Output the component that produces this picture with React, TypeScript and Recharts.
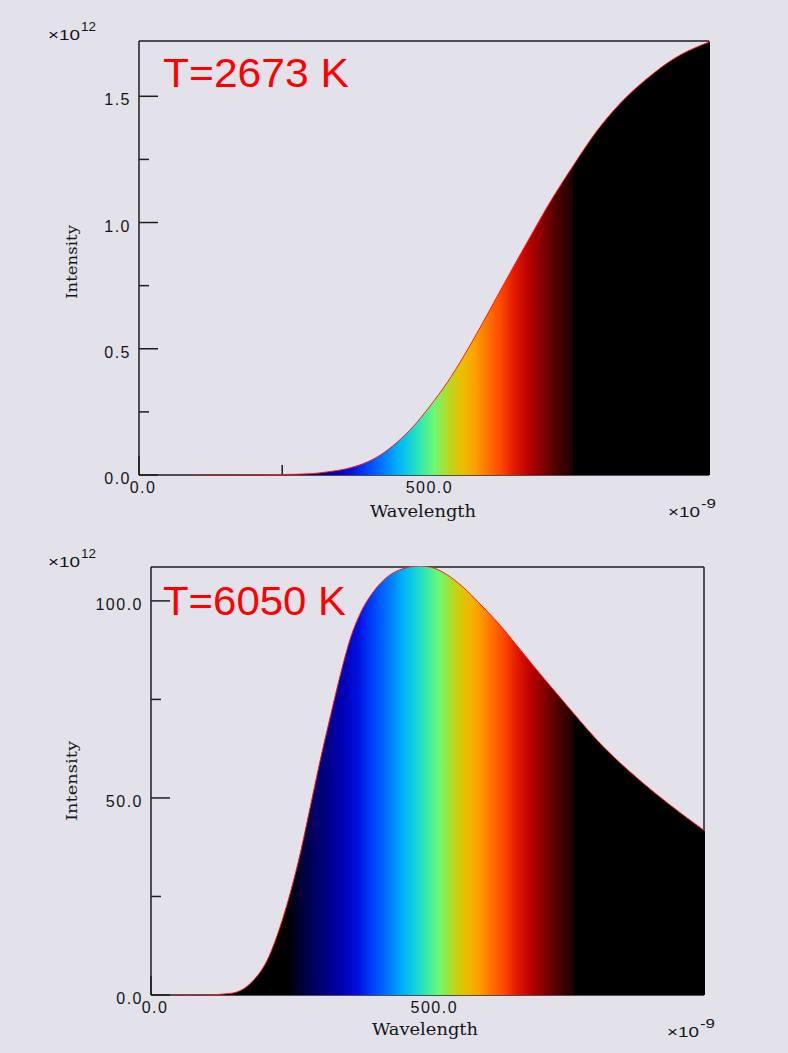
import React from 'react';
import { ComposedChart, Area, XAxis, YAxis } from 'recharts';

// ---- data ----
const topTemperature = 'T=2673 K';
const topWavelengths = [95, 150, 200, 250, 300, 327, 362, 391, 420, 449, 478, 507, 537, 566, 595, 624, 653, 682, 711, 760, 798, 839, 886, 932, 979, 995];
const topIntensity = [0, 0.0005, 0.001, 0.002, 0.005, 0.012, 0.025, 0.045, 0.078, 0.128, 0.192, 0.272, 0.365, 0.47, 0.585, 0.705, 0.825, 0.942, 1.058, 1.234, 1.36, 1.47, 1.568, 1.645, 1.698, 1.712];
const topYTicks = [0, 0.25, 0.5, 0.75, 1.0, 1.25, 1.5];
const topYMax = 1.719;
const topXMax = 995;

const bottomTemperature = 'T=6050 K';
const bottomWavelengths = [40, 100, 142, 178, 208, 231, 249, 267, 285, 303, 321, 339, 357, 374, 398, 422, 452, 480, 500, 518, 541, 554, 590, 625, 661, 697, 733, 757, 804, 852, 900, 948, 990];
const bottomIntensity = [0, 0.05, 0.4, 3.0, 8.9, 17.4, 25.9, 36.0, 47.9, 59.8, 70.8, 81.4, 90.6, 96.6, 102.2, 105.8, 108.0, 108.6, 108.3, 107.3, 105.2, 103.7, 98.7, 93.4, 87.2, 81.0, 75.0, 71.0, 63.5, 57.0, 51.2, 45.9, 41.5];
const bottomYTicks = [0, 25, 50, 75, 100];
const bottomYMax = 108.6;
const bottomXMax = 990;

const xTicks = [0, 250, 500, 750];

// spectrum colour map (wavelength in nm -> colour)
const spectrumWavelengths = [0, 245, 265, 300, 340, 370, 400, 425, 450, 470, 490, 515, 540, 562, 585, 605, 630, 655, 680, 705, 730, 755, 757, 1000];
const spectrumColors = ['#000000', '#000000', '#000030', '#000070', '#0000b0', '#0010e0', '#0048ff', '#0078ff', '#00b0f8', '#10d0e0', '#30e8b0', '#70f870', '#b8d820', '#e8c000', '#ffa000', '#ff7800', '#ff4800', '#e01800', '#b80000', '#800000', '#480000', '#200000', '#000000', '#000000'];

const topData = topWavelengths.map((wl, i) => ({ wl, intensity: topIntensity[i] }));
const bottomData = bottomWavelengths.map((wl, i) => ({ wl, intensity: bottomIntensity[i] }));

const AXIS = '#1e1e1e';
const tickFont = { fontFamily: '"Liberation Sans", Arial, sans-serif', fontSize: 16, letterSpacing: 1.5, fill: '#151515' };

function makeYTick(majorStep: number) {
  return (props: any) => {
    const { x, y, payload } = props;
    const v = payload.value as number;
    const isMajor = Math.abs(v / majorStep - Math.round(v / majorStep)) < 1e-6;
    return (
      <g>
        <line x1={x} y1={y} x2={x + (isMajor ? 19 : 10)} y2={y} stroke={AXIS} strokeWidth={1.5} />
        {isMajor && (
          <text x={x - 8} y={y + 9} textAnchor="end" style={tickFont}>
            {v.toFixed(1)}
          </text>
        )}
      </g>
    );
  };
}

function XTick(props: any) {
  const { x, y, payload } = props;
  const v = payload.value as number;
  const isMajor = v % 500 === 0;
  return (
    <g>
      <line x1={x} y1={y} x2={x} y2={y - (isMajor ? 19 : 10)} stroke={AXIS} strokeWidth={1.5} />
      {isMajor && (
        <text x={x + 4} y={y + 18} textAnchor="middle" style={tickFont}>
          {v.toFixed(1)}
        </text>
      )}
    </g>
  );
}

function stopsFor(minWl: number, maxWl: number) {
  return spectrumWavelengths.map((w, i) => {
    const off = Math.max(0, Math.min(1, (w - minWl) / (maxWl - minWl)));
    return <stop key={i} offset={off} stopColor={spectrumColors[i]} />;
  });
}

type ChartProps = {
  data: { wl: number; intensity: number }[];
  xMax: number;
  yMax: number;
  yTicks: number[];
  majorStep: number;
  gradId: string;
  minWl: number;
  maxWl: number;
  width: number;
  height: number;
  margin: { top: number; right: number; bottom: number; left: number };
};

// Frame: axes, ticks and border of the plot
function FrameChart(props: ChartProps) {
  const { data, xMax, yMax, yTicks, majorStep, width, height, margin } = props;
  return (
    <ComposedChart width={width} height={height} data={data} margin={margin}>
      <XAxis
        dataKey="wl"
        type="number"
        domain={[0, xMax]}
        ticks={xTicks}
        interval={0}
        height={1}
        tickSize={0}
        tickMargin={0}
        tickLine={false}
        axisLine={{ stroke: AXIS, strokeWidth: 1.5 }}
        tick={XTick}
      />
      <XAxis
        xAxisId="top"
        orientation="top"
        type="number"
        domain={[0, xMax]}
        height={1}
        tick={false}
        tickLine={false}
        axisLine={{ stroke: AXIS, strokeWidth: 1.5 }}
      />
      <YAxis
        type="number"
        domain={[0, yMax]}
        ticks={yTicks}
        interval={0}
        width={1}
        tickSize={0}
        tickMargin={0}
        tickLine={false}
        allowDataOverflow
        axisLine={{ stroke: AXIS, strokeWidth: 1.5 }}
        tick={makeYTick(majorStep)}
      />
      <YAxis
        yAxisId="right"
        orientation="right"
        type="number"
        domain={[0, yMax]}
        width={1}
        tick={false}
        tickLine={false}
        axisLine={{ stroke: AXIS, strokeWidth: 1.5 }}
      />
    </ComposedChart>
  );
}

// Spectrum fill, drawn over the frame so that ticks inside it are hidden
function FillChart(props: ChartProps) {
  const { data, xMax, yMax, gradId, minWl, maxWl, width, height, margin } = props;
  return (
    <ComposedChart width={width} height={height} data={data} margin={margin}>
      <defs>
        <linearGradient id={gradId} x1="0" y1="0" x2="1" y2="0">
          {stopsFor(minWl, maxWl)}
        </linearGradient>
      </defs>
      <XAxis dataKey="wl" type="number" domain={[0, xMax]} height={1} tick={false} tickLine={false} axisLine={false} />
      <YAxis type="number" domain={[0, yMax]} width={1} tick={false} tickLine={false} axisLine={false} allowDataOverflow />
      <Area
        dataKey="intensity"
        type="monotone"
        baseValue={0}
        fill={`url(#${gradId})`}
        fillOpacity={1}
        stroke="#ff1a1a"
        strokeWidth={1}
        dot={false}
        activeDot={false}
        isAnimationActive={false}
      />
    </ComposedChart>
  );
}

function SpectrumChart(props: ChartProps & { top: number }) {
  return (
    <div style={{ position: 'absolute', left: 0, top: props.top, width: props.width, height: props.height }}>
      <div style={{ position: 'absolute', left: 0, top: 0 }}>
        <FrameChart {...props} />
      </div>
      <div style={{ position: 'absolute', left: 0, top: 0 }}>
        <FillChart {...props} />
      </div>
    </div>
  );
}

const sansTitle = { fontFamily: '"Liberation Sans", Arial, sans-serif' };
const serif = { fontFamily: '"DejaVu Serif", "Liberation Serif", serif' };
const ink = '#151515';

function Exponent(props: { x: number; y: number; exp: string }) {
  const { x, y, exp } = props;
  return (
    <g>
      <text x={x} y={y} textLength={32} lengthAdjust="spacingAndGlyphs" style={{ ...sansTitle, fontSize: 15, fill: ink }}>
        ×10
      </text>
      <text x={x + 33} y={y - 9} textLength={exp.length * 7.5} lengthAdjust="spacingAndGlyphs" style={{ ...sansTitle, fontSize: 12, fill: ink }}>
        {exp}
      </text>
    </g>
  );
}

export default function App() {
  return (
    <div
      style={{
        position: 'absolute',
        left: 0,
        top: 0,
        width: 788,
        height: 1053,
        background: '#e3e2ea',
        overflow: 'hidden',
      }}
    >
      <SpectrumChart
        top={0}
        data={topData}
        xMax={topXMax}
        yMax={topYMax}
        yTicks={topYTicks}
        majorStep={0.5}
        gradId="specTop"
        minWl={topWavelengths[0]}
        maxWl={topWavelengths[topWavelengths.length - 1]}
        width={788}
        height={520}
        margin={{ top: 40, right: 78, bottom: 44, left: 138 }}
      />
      <SpectrumChart
        top={520}
        data={bottomData}
        xMax={bottomXMax}
        yMax={bottomYMax}
        yTicks={bottomYTicks}
        majorStep={50}
        gradId="specBottom"
        minWl={bottomWavelengths[0]}
        maxWl={bottomWavelengths[bottomWavelengths.length - 1]}
        width={788}
        height={533}
        margin={{ top: 46, right: 83, bottom: 57, left: 150 }}
      />
      <svg
        width={788}
        height={1053}
        style={{ position: 'absolute', left: 0, top: 0, pointerEvents: 'none' }}
      >
        {/* top chart texts */}
        <Exponent x={48} y={40} exp="12" />
        <text x={163} y={87} textLength={186} lengthAdjust="spacingAndGlyphs" style={{ ...sansTitle, fontSize: 41, fill: '#ff0000' }}>
          {topTemperature}
        </text>
        <text
          x={77}
          y={262}
          textAnchor="middle"
          transform="rotate(-90 77 262)"
          textLength={74}
          lengthAdjust="spacingAndGlyphs"
          style={{ ...serif, fontSize: 15, fill: ink }}
        >
          Intensity
        </text>
        <text x={370} y={517} textLength={106} lengthAdjust="spacingAndGlyphs" style={{ ...serif, fontSize: 17, fill: ink }}>
          Wavelength
        </text>
        <Exponent x={668} y={517} exp="-9" />

        {/* bottom chart texts */}
        <Exponent x={48} y={567} exp="12" />
        <text x={163} y={615} textLength={183} lengthAdjust="spacingAndGlyphs" style={{ ...sansTitle, fontSize: 41, fill: '#ff0000' }}>
          {bottomTemperature}
        </text>
        <text
          x={77}
          y={781}
          textAnchor="middle"
          transform="rotate(-90 77 781)"
          textLength={80}
          lengthAdjust="spacingAndGlyphs"
          style={{ ...serif, fontSize: 15, fill: ink }}
        >
          Intensity
        </text>
        <text x={372} y={1035} textLength={106} lengthAdjust="spacingAndGlyphs" style={{ ...serif, fontSize: 17, fill: ink }}>
          Wavelength
        </text>
        <Exponent x={667} y={1037} exp="-9" />
      </svg>
    </div>
  );
}
